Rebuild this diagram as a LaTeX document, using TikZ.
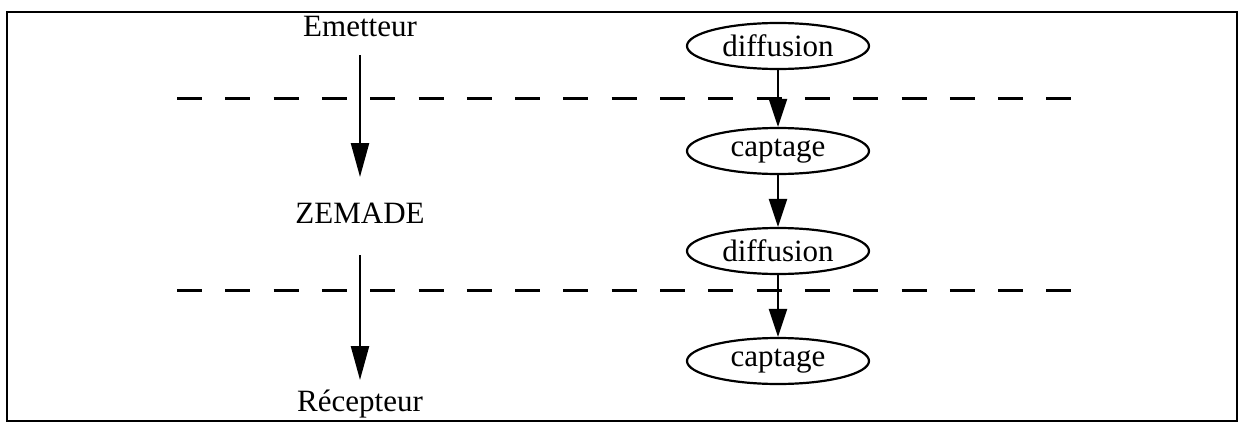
\documentclass[tikz,border=0pt]{standalone}
\usepackage{fontspec}
\setmainfont{Liberation Serif}
\usetikzlibrary{positioning, shapes.geometric, arrows.meta}

\begin{document}
\begin{tikzpicture}[x=0.5pt, y=-0.5pt, font=\fontsize{15.5}{18}\selectfont,
  etape/.style={ellipse, draw, line width=1.1pt, minimum width=91pt,
    minimum height=23pt, inner sep=0pt},
  fleche/.style={-{Triangle[length=14pt, width=9pt]}, line width=1.2pt},
  grandefleche/.style={-{Triangle[length=17pt, width=9pt]}, line width=1.2pt},
  coupure/.style={line width=1.5pt, dash pattern=on 12.5pt off 11.65pt}]
  \def\xg{360}
  \def\xd{778}
  \useasboundingbox (0,0) rectangle (1239,423);
  % cadre
  \draw[line width=1.3pt] (7,12) rectangle (1237,421);
  % frontieres
  \foreach \y in {98,290}{
    \draw[coupure] (177,\y) -- (1073,\y);
  }
  % colonne gauche
  \node (emet) at (\xg,27) {Emetteur};
  \node (zem) at (\xg,213) {ZEMADE};
  \node (recep) at (\xg,404) {Récepteur};
  \coordinate (h1) at (\xg,55);
  \coordinate (b1) at (\xg,177);
  \coordinate (h2) at (\xg,255);
  \coordinate (b2) at (\xg,380);
  \draw[grandefleche] (h1) -- (b1);
  \draw[grandefleche] (h2) -- (b2);
  % colonne droite
  \node[etape] (dif1) at (\xd,46) {diffusion};
  \node[etape] (cap1) at (\xd,151) {captage};
  \node[etape] (dif2) at (\xd,251) {diffusion};
  \node[etape] (cap2) at (\xd,361) {captage};
  \foreach \a/\b in {dif1/cap1, cap1/dif2, dif2/cap2}{
    \draw[fleche] (\a) -- (\b);
  }
\end{tikzpicture}
\end{document}
